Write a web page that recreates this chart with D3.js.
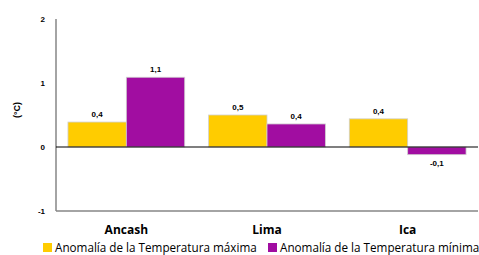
<!DOCTYPE html>
<html>
<head>
<meta charset="utf-8">
<script src="https://cdn.jsdelivr.net/npm/d3@7"></script>
<style>
  body { margin: 0; background: #fff; }
  svg { display: block; font-family: "Liberation Sans", Arial, sans-serif; }
</style>
</head>
<body>
<svg id="chart" width="479" height="255"></svg>
<script>
var regions = ["Ancash", "Lima", "Ica"];
var seriesNames = ["Anomalía de la Temperatura máxima", "Anomalía de la Temperatura mínima"];
var tmax = [0.39, 0.5, 0.44];
var tmin = [1.09, 0.36, -0.12];
var yTicks = [-1, 0, 1, 2];
var colors = ["#FFCC00", "#A10DA1"];

var svg = d3.select("#chart");
var plotLeft = 56, plotRight = 478, plotTop = 19, plotBottom = 211;

var x = d3.scaleBand().domain(regions).range([plotLeft, plotRight]).paddingInner(0.17).paddingOuter(0.085);
var xs = d3.scaleBand().domain([0, 1]).range([0, x.bandwidth()]);
var y = d3.scaleLinear().domain([-1, 2]).range([plotBottom, plotTop]);

// y axis line
svg.append("line")
    .attr("x1", plotLeft).attr("x2", plotLeft)
    .attr("y1", y(2)).attr("y2", y(-1))
    .attr("stroke", "#868686").attr("stroke-width", 1.5);

// bottom line
svg.append("line")
    .attr("x1", plotLeft).attr("x2", plotRight)
    .attr("y1", y(-1)).attr("y2", y(-1))
    .attr("stroke", "#868686").attr("stroke-width", 1.5);

svg.selectAll(".ytick")
    .data(yTicks)
    .enter().append("text")
    .attr("x", 45)
    .attr("y", d => y(d) + 3)
    .attr("text-anchor", "end")
    .style("font-size", "8px")
    .style("font-weight", "bold")
    .text(d => d);

svg.append("text")
    .attr("transform", "translate(20,110) rotate(-90)")
    .attr("text-anchor", "middle")
    .style("font-size", "9px")
    .style("font-weight", "bold")
    .text("(°C)");

var rows = regions.map((r, i) => ({ region: r, vals: [tmax[i], tmin[i]] }));

var groups = svg.selectAll(".grp")
    .data(rows)
    .enter().append("g")
    .attr("transform", d => "translate(" + x(d.region) + ",0)");

groups.selectAll("rect")
    .data(d => d.vals)
    .enter().append("rect")
    .attr("x", (d, i) => xs(i))
    .attr("width", xs.bandwidth())
    .attr("y", d => y(Math.max(0, d)))
    .attr("height", d => Math.abs(y(d) - y(0)))
    .attr("fill", (d, i) => colors[i])
    .attr("stroke", "#d0d0d0")
    .attr("stroke-width", 0.8);

groups.selectAll(".lbl")
    .data(d => d.vals)
    .enter().append("text")
    .attr("x", (d, i) => xs(i) + xs.bandwidth() / 2)
    .attr("y", d => d >= 0 ? y(d) - 5 : y(d) + 11)
    .attr("text-anchor", "middle")
    .style("font-size", "8px")
    .style("font-weight", "bold")
    .text(d => d.toFixed(1).replace(".", ","));

// zero line
svg.append("line")
    .attr("x1", plotLeft).attr("x2", plotRight)
    .attr("y1", y(0)).attr("y2", y(0))
    .attr("stroke", "#000").attr("stroke-width", 1.2);

svg.selectAll(".xlab")
    .data(regions)
    .enter().append("text")
    .attr("x", d => x(d) + x.bandwidth() / 2)
    .attr("y", 234)
    .attr("text-anchor", "middle")
    .style("font-family", "'Open Sans', sans-serif")
    .style("font-size", "12px")
    .style("font-weight", "bold")
    .text(d => d);

var legendX = [43, 268];
var leg = svg.selectAll(".leg")
    .data(seriesNames)
    .enter().append("g")
    .attr("transform", (d, i) => "translate(" + legendX[i] + ",243)");
leg.append("rect")
    .attr("width", 9).attr("height", 9)
    .attr("fill", (d, i) => colors[i]);
leg.append("text")
    .attr("x", 12)
    .attr("y", 9)
    .style("font-family", "'Open Sans', sans-serif")
    .style("font-size", "11.7px")
    .text(d => d);
</script>
</body>
</html>
